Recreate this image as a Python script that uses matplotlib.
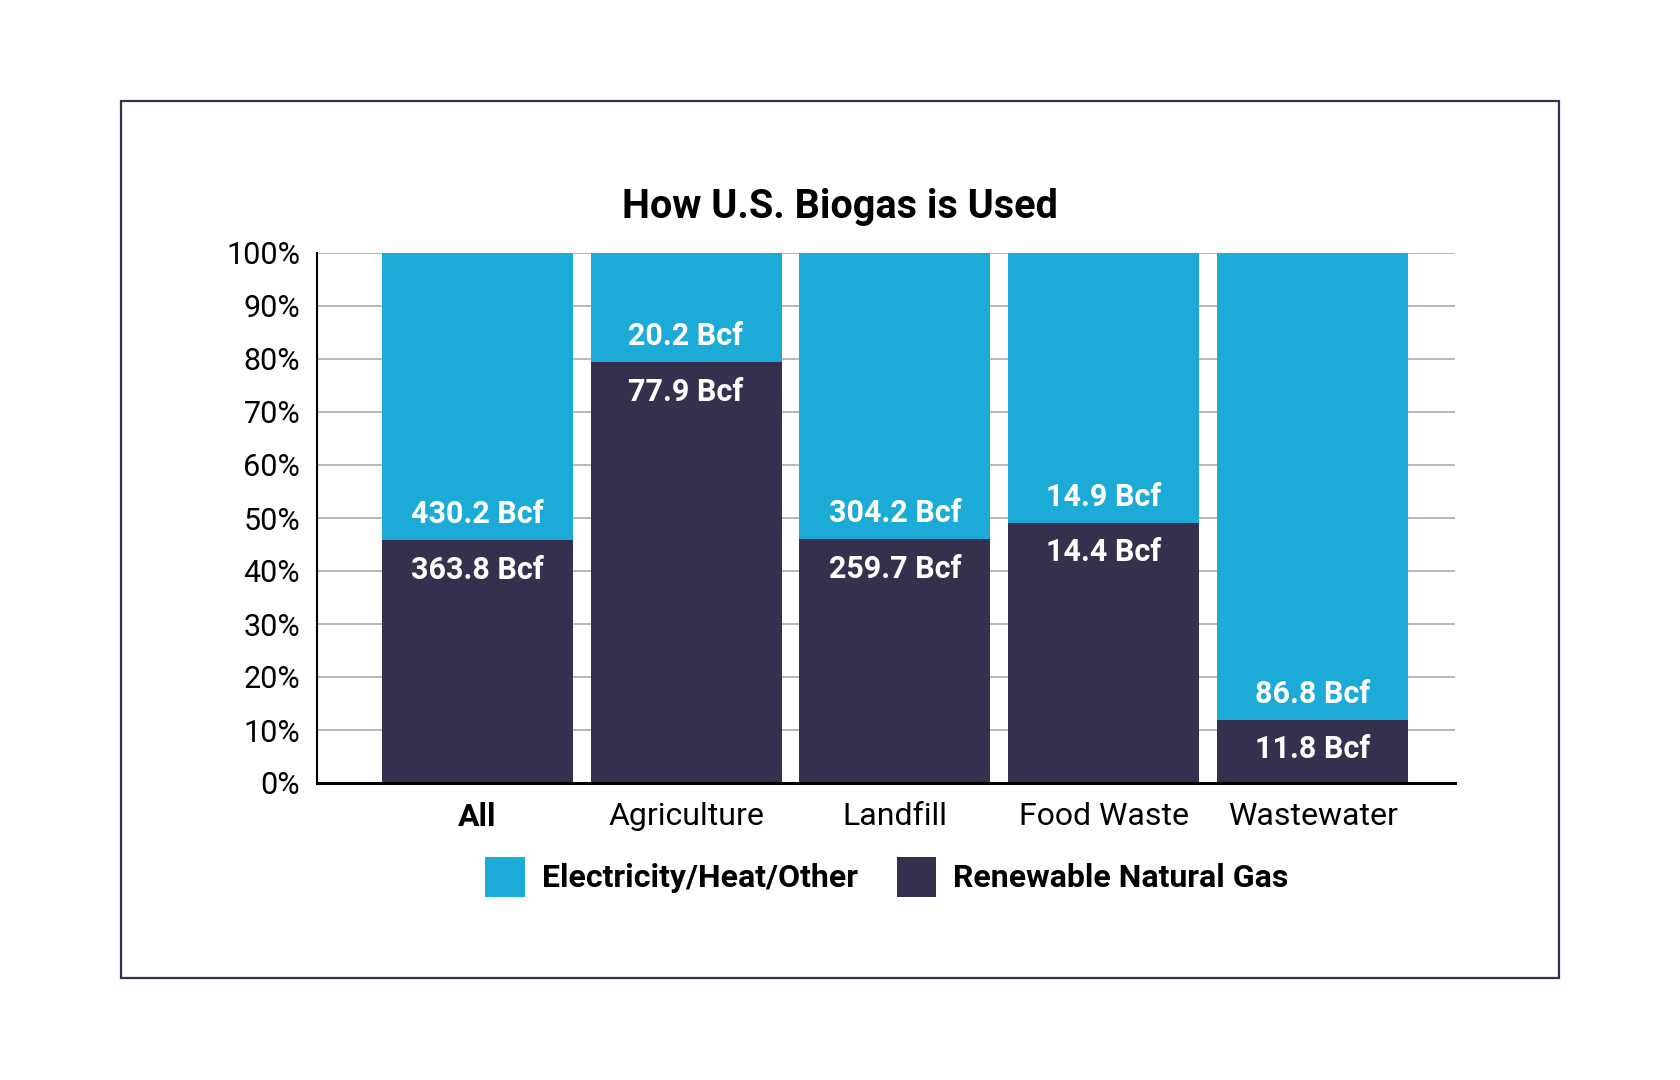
import matplotlib
matplotlib.use("Agg")
import matplotlib.pyplot as plt
from matplotlib.patches import Patch, Rectangle
import numpy as np

plt.rcParams['font.family'] = ['Roboto', 'DejaVu Sans']

categories = ["All", "Agriculture", "Landfill", "Food Waste", "Wastewater"]
rng_bcf = [363.8, 77.9, 259.7, 14.4, 11.8]
elec_bcf = [430.2, 20.2, 304.2, 14.9, 86.8]
y_ticks = [0, 10, 20, 30, 40, 50, 60, 70, 80, 90, 100]

CYAN = "#1CAAD6"
NAVY = "#34304D"

rng = np.array(rng_bcf)
elec = np.array(elec_bcf)
rng_pct = rng / (rng + elec) * 100
elec_pct = 100 - rng_pct

fig = plt.figure(figsize=(16.8, 10.8), dpi=100)
ax = fig.add_axes([317 / 1680, 1 - 783 / 1080, (1455 - 317) / 1680, (783 - 253) / 1080])

x = np.arange(len(categories))
w = 0.914
ax.bar(x, rng_pct, width=w, color=NAVY, zorder=2)
ax.bar(x, elec_pct, width=w, bottom=rng_pct, color=CYAN, zorder=2)

# etiquetas de volumen a ambos lados del corte
for xi, b, e_lab, r_lab in zip(x, rng_pct, elec_bcf, rng_bcf):
    ax.annotate(f"{e_lab} Bcf", (xi, b), xytext=(0, 18.5), textcoords="offset points",
                ha="center", va="center", color="white", fontsize=22, fontweight="bold", zorder=3)
    ax.annotate(f"{r_lab} Bcf", (xi, b), xytext=(0, -21.5), textcoords="offset points",
                ha="center", va="center", color="white", fontsize=22, fontweight="bold", zorder=3)

ax.set_xlim(-0.766, 4.68)
ax.set_ylim(0, 100)
ax.set_yticks(y_ticks)
ax.set_yticklabels([f"{t}%" for t in y_ticks])
ax.yaxis.grid(True, color="#a3a3a3", linewidth=1.1, zorder=0)
ax.set_axisbelow(True)
ax.tick_params(axis="both", length=0, colors="black")
ax.tick_params(axis="y", pad=12, labelsize=22)
ax.tick_params(axis="x", pad=14, labelsize=23)
ax.set_xticks(x)
ax.set_xticklabels(categories)
ax.get_xticklabels()[0].set_fontweight("bold")

for s in ["top", "right"]:
    ax.spines[s].set_visible(False)
ax.spines["left"].set_linewidth(1.5)
ax.spines["bottom"].set_linewidth(2.2)
ax.spines["bottom"].set_zorder(4)

fig.text(0.5, 1 - 207 / 1080, "How U.S. Biogas is Used", ha="center", va="center",
         fontsize=28.5, fontweight="bold")

handles = [Patch(facecolor=CYAN, label="Electricity/Heat/Other"),
           Patch(facecolor=NAVY, label="Renewable Natural Gas")]
fig.legend(handles=handles, loc="center", bbox_to_anchor=(0.528, 1 - 877 / 1080), ncol=2,
           frameon=False, handlelength=1.25, handleheight=1.59, handletextpad=0.53,
           columnspacing=1.2, prop={"size": 23, "weight": "bold"})

fig.patches.append(Rectangle((121 / 1680, 1 - 978 / 1080), (1559 - 121) / 1680, (978 - 101) / 1080,
                             transform=fig.transFigure, fill=False, edgecolor=NAVY, linewidth=1.6))

fig.savefig("out.png", dpi=100)
